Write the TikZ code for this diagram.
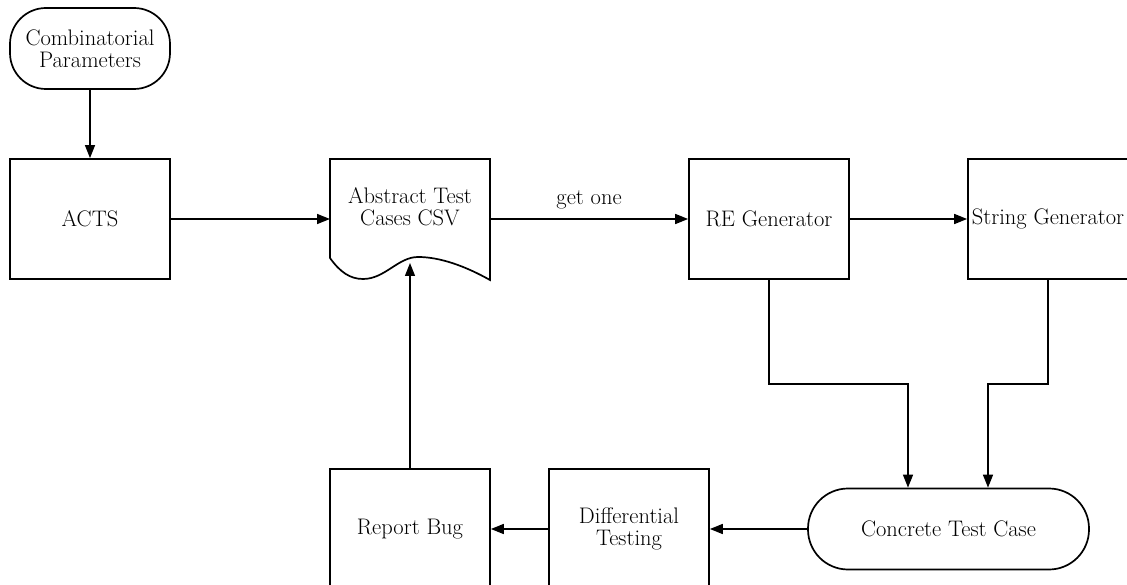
\documentclass[tikz,border=0pt]{standalone}
\usepackage{fontspec}
\usetikzlibrary{arrows.meta}
\begin{document}
\begin{tikzpicture}[x=1pt,y=-1pt,
  every node/.style={font=\fontsize{22.5}{22}\selectfont},
  box/.style={draw, line width=1.7pt, minimum width=160pt, minimum height=120pt, inner sep=0pt, align=center},
  term/.style={draw, line width=1.7pt, inner sep=0pt, align=center},
  conn/.style={line width=1.5pt, -{Triangle[length=13pt,width=10pt]}},
  thinconn/.style={line width=1.3pt, -{Triangle[length=13pt,width=10pt]}},
  ]
\useasboundingbox (0,0) rectangle (1127,585);
% nodes
\node[term, minimum width=160pt, minimum height=81pt, rounded corners=36pt] (cp) at (90,48.5) {Combinatorial\\Parameters};
\node[box] (acts) at (90,219) {ACTS};
% document shape
\draw[line width=1.7pt, line join=miter] (330,159) -- (490,159) -- (490,280)
  .. controls (465,266) and (440,257) .. (418,257)
  .. controls (398,257) and (385,279) .. (363,279)
  .. controls (350,279) and (340,272) .. (330,258) -- cycle;
\node[align=center, inner sep=0pt] (doc) at (410,207) {Abstract Test\\Cases CSV};
\coordinate (docW) at (330,219);
\coordinate (docE) at (490,219);
\coordinate (docIn) at (410,263);
\node[box] (re) at (769,219) {RE Generator};
\node[box] (sg) at (1048,219) {String Generator};
\node[term, minimum width=281pt, minimum height=81pt, rounded corners=40pt] (ct) at (948.5,529) {Concrete Test Case};
\node[box] (dt) at (629,529) {Differential\\Testing};
\node[box] (rb) at (410,529) {Report Bug};
\coordinate (ctA) at ([xshift=-40.5pt]ct.north);
\coordinate (ctB) at ([xshift=39.5pt]ct.north);
% connectors
\draw[thinconn] (cp.south) -- (acts.north);
\draw[conn] (acts.east) -- (docW);
\draw[conn] (docE) -- node[anchor=base, yshift=14pt] {get one} (re.west);
\draw[conn] (re.east) -- (sg.west);
\draw[thinconn] (re.south) -- ++(0,104) -| (ctA);
\draw[conn] (sg.south) -- ++(0,104) -| (ctB);
\draw[conn] (ct.west) -- (dt.east);
\draw[conn] (dt.west) -- (rb.east);
\draw[thinconn] (rb.north) -- (docIn);
\end{tikzpicture}
\end{document}
